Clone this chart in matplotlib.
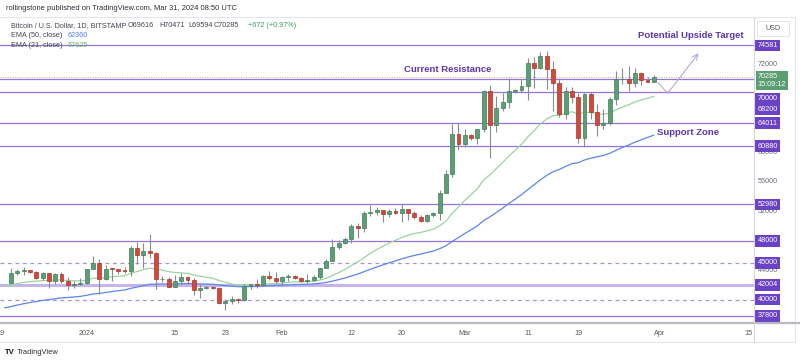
import numpy as np
import pandas as pd
import matplotlib
matplotlib.use("Agg")
import matplotlib.pyplot as plt
import matplotlib.transforms as mtransforms
from matplotlib.patches import Rectangle

plt.rcParams['font.family'] = ['Liberation Sans', 'DejaVu Sans']

# daily BTC/USD candles, Dec 20 2023 .. Mar 31 2024
dates = pd.date_range("2023-12-20", "2024-03-31", freq="D")
opens = [42270, 43660, 43870, 43990, 43730, 43010, 43580, 42510, 43450, 42580, 42070, 42140,
         42280, 44180, 44950, 42850, 44180, 44160, 43970, 43930, 46970, 46120, 46660, 46350,
         42780, 42840, 41730, 42510, 43150, 42740, 41260, 41620, 41670, 41550, 39510, 39850,
         40080, 39940, 41800, 42120, 42030, 43290, 42950,
         42580, 43080, 43190, 43000, 42580, 42660, 43080, 44320, 45300, 47130, 47750, 48290,
         49960, 49700, 51800, 51920, 52160, 51660, 52120, 51780, 52280, 51840, 51300, 50740,
         51570, 51730, 54490, 57070, 62500,
         61200, 62440, 62030, 63170, 68330, 63800, 66110, 66930, 68300, 68500, 69020, 72120,
         71480, 73080, 71400, 69400, 65300, 68390, 67550, 61910, 67910, 65490, 63780, 64060,
         67230, 69950, 69990, 69470, 70780, 69890, 69616]
highs = [44290, 44240, 44400, 44020, 43960, 43800, 43620, 43690, 43800, 43130, 42610, 42900,
         44200, 45900, 45500, 44760, 44350, 44240, 44500, 47250, 47900, 47690, 48970, 46520,
         43260, 43080, 43370, 43580, 43200, 42920, 42170, 41860, 41880, 41690, 40100, 40550,
         40260, 42200, 42200, 42840, 43320, 43860, 43750,
         43280, 43480, 43380, 43110, 43520, 43400, 44350, 45560, 48190, 48150, 48570, 50330,
         50360, 52040, 52820, 52570, 52200, 52350, 52490, 52960, 52360, 52040, 51520, 51690,
         51960, 54950, 57560, 63900, 64000,
         63150, 62450, 63230, 68540, 69200, 67650, 68050, 70140, 68630, 70000, 72800, 72950,
         73650, 73800, 72400, 70100, 68870, 68900, 68100, 68100, 68200, 66600, 65950, 67560,
         71100, 71520, 71700, 71500, 70900, 70300, 70471]
lows = [42190, 43300, 43410, 43580, 42800, 42720, 41630, 42100, 42300, 41300, 41530, 41970,
        42190, 44180, 40800, 42640, 42580, 43430, 43600, 43200, 44800, 44350, 45650, 41500,
        42460, 41740, 41720, 42050, 42200, 40600, 40280, 41460, 41470, 39450, 38540, 39480,
        39500, 39820, 41400, 41640, 41800, 42700, 42300,
        41880, 42570, 42880, 42380, 42270, 42570, 42790, 44320, 45270, 46830, 47540, 47700,
        48350, 49270, 51320, 51560, 50620, 51180, 51660, 50600, 50880, 50930, 50550, 50590,
        51300, 50900, 54460, 56700, 60400,
        60800, 61680, 61170, 62800, 59200, 62850, 65600, 66100, 68100, 68250, 67200, 68800,
        71350, 68600, 65600, 64800, 64600, 66700, 61300, 60800, 64600, 62300, 63200, 63800,
        66400, 69300, 68400, 68950, 69150, 69560, 69594]
closes = [43660, 43870, 43990, 43730, 43010, 43580, 42510, 43450, 42580, 42070, 42140, 42280,
          44180, 44950, 42850, 44180, 44160, 43970, 43930, 46970, 46120, 46660, 46350, 42780,
          42840, 41730, 42510, 43150, 42740, 41260, 41620, 41670, 41550, 39510, 39850, 40080,
          39940, 41800, 42120, 42030, 43290, 42950, 42580,
          43080, 43190, 43000, 42580, 42660, 43080, 44320, 45300, 47130, 47750, 48290, 49960,
          49700, 51800, 51920, 52160, 51660, 52120, 51780, 52280, 51840, 51300, 50740, 51570,
          51730, 54490, 57070, 62500, 61200,
          62440, 62030, 63170, 68330, 63800, 66110, 66930, 68300, 68500, 69020, 72120, 71480,
          73080, 71400, 69400, 65300, 68390, 67550, 61910, 67910, 65490, 63780, 64060, 67230,
          69950, 69990, 69470, 70780, 69890, 69620, 70285]

# EMA values on Dec 19
ema21_start = 41850
ema50_start = 38900

levels_solid = [74581, 70000, 68200, 64011, 60880, 52980, 48000, 37800]
level_thick = 42004
levels_dashed = [45000, 40000]
last_price = 70285

tick_days = ["2023-12-19", "2024-01-01", "2024-01-15", "2024-01-23", "2024-02-01", "2024-02-12",
             "2024-02-20", "2024-03-01", "2024-03-11", "2024-03-19", "2024-04-01", "2024-04-15"]
tick_labels = ["19", "2024", "15", "23", "Feb", "12", "20", "Mar", "11", "19", "Apr", "15"]
# only the price ticks not hidden behind level labels
price_ticks = [44000, 52000, 56000, 60000, 72000]

GREEN = "#5e9e74"
GREEN_EDGE = "#3f7d57"
RED = "#d4473b"
RED_EDGE = "#a9352b"
WICK = "#8c8c8c"
PURPLE = "#9473d6"
PURPLE_BOX = "#6a42c6"
TXT_PURPLE = "#5b35b5"

t0 = pd.Timestamp("2024-01-01")
x = np.array((dates - t0).days, dtype=float)
o = np.array(opens, float)
h = np.array(highs, float)
l = np.array(lows, float)
c = np.array(closes, float)


def ema(values, start, n):
    a = 2.0 / (n + 1)
    out = [start]
    for v in values:
        out.append(out[-1] + a * (v - out[-1]))
    return np.array(out)


ema21 = ema(c, ema21_start, 21)
ema50 = ema(c, ema50_start, 50)
x_ema = np.concatenate([[x[0] - 1], x])

W, H = 800, 364
fig = plt.figure(figsize=(8, 3.64), dpi=100)
fig.patch.set_facecolor("white")


def fx(px):
    return px / W


def fy(py):
    return 1 - py / H


ax = fig.add_axes([0, fy(323), fx(754), (323 - 21) / H])
ax.set_facecolor("white")
ax.set_xlim(-13.76, 105.9)
ax.set_ylim(36840, 77870)
for s in ax.spines.values():
    s.set_visible(False)
ax.set_xticks([])
ax.set_yticks([])

# horizontal levels
for lv in levels_solid:
    ax.axhline(lv, color=PURPLE, lw=0.9, zorder=1)
ax.axhline(level_thick, color="#c6b5ec", lw=2.2, zorder=1)
for lv in levels_dashed:
    ax.axhline(lv, color="#a890e0", lw=0.9, ls=(0, (3, 3)), zorder=1)
ax.axhline(last_price, color="#b0b0b0", lw=0.7, ls=(0, (1, 1.5)), zorder=1)

# EMAs
ax.plot(x_ema, ema50, color="#5b86ef", lw=0.9, zorder=2)
ax.plot(x_ema, ema21, color="#9ad49f", lw=0.9, zorder=2)

# candles
up = c >= o
ax.vlines(x, l, h, color=WICK, lw=0.8, zorder=3)
body = np.maximum(np.abs(c - o), 90)
ax.bar(x[up], body[up], bottom=np.minimum(o, c)[up], width=0.62,
       color=GREEN, edgecolor=GREEN_EDGE, lw=0.5, zorder=4)
ax.bar(x[~up], body[~up], bottom=np.minimum(o, c)[~up], width=0.62,
       color=RED, edgecolor=RED_EDGE, lw=0.5, zorder=4)

# projected path arrow
ax.plot([90.7, 92.2], [69490, 68050], color="#b8a6e3", lw=0.8, zorder=3)
ax.annotate("", xy=(97.1, 73490), xytext=(92.2, 68050),
            arrowprops=dict(arrowstyle="->", color="#b8a6e3", lw=0.8,
                            shrinkA=0, shrinkB=0), zorder=3)

# annotations
fig.text(fx(638), fy(36), "Potential Upside Target", color=TXT_PURPLE, fontsize=6.8,
         fontweight="bold", va="center", ha="left")
fig.text(fx(404), fy(69), "Current Resistance", color=TXT_PURPLE, fontsize=6.8,
         fontweight="bold", va="center", ha="left")
fig.text(fx(657), fy(132), "Support Zone", color=TXT_PURPLE, fontsize=6.8,
         fontweight="bold", va="center", ha="left")

# price axis
trans = mtransforms.blended_transform_factory(ax.transAxes, ax.transData)
for p in price_ticks:
    ax.text(1.0045, p, str(p), transform=trans, fontsize=5.2, color="#6a6d78",
            va="center", ha="left", clip_on=False, zorder=5)

# 70000 / 68200 labels are pushed below the live price label, as in the chart
label_offsets = {70000: -14.2, 68200: -12.6}
for lv in levels_solid + levels_dashed + [level_thick]:
    ax.annotate(str(lv), xy=(1.0045, lv), xycoords=trans,
                xytext=(0, label_offsets.get(lv, 0)), textcoords="offset points",
                fontsize=5.2, color="white", va="center", ha="left",
                annotation_clip=False, zorder=6,
                bbox=dict(boxstyle="square,pad=0.3", fc=PURPLE_BOX, ec="none"))
ax.annotate("%d\n15:09:12" % last_price, xy=(1.0045, last_price), xycoords=trans,
            xytext=(0, -2.6), textcoords="offset points", fontsize=5.2, color="white",
            va="center", ha="left", annotation_clip=False, zorder=7, linespacing=1.15,
            bbox=dict(boxstyle="square,pad=0.25", fc="#5a9e72", ec="none"))

# time axis
tick_x = [(pd.Timestamp(d) - t0).days for d in tick_days]
tick_x[0] = tick_x[0] - 0.6
for tx, tl in zip(tick_x, tick_labels):
    ax.text(tx, -0.035, tl, transform=mtransforms.blended_transform_factory(ax.transData, ax.transAxes),
            fontsize=5.2, color="#55585f", ha="center", va="center", clip_on=False)

# frame lines
fig.add_artist(plt.Line2D([0, fx(800)], [fy(323), fy(323)], color="#b7b9c0", lw=1.6))
fig.add_artist(plt.Line2D([fx(754), fx(754)], [fy(17), fy(342)], color="#d5d7de", lw=0.8))
fig.add_artist(Rectangle((fx(-2), fy(342)), fx(797), (342 - 17) / H, fill=False,
                         ec="#e3e5ea", lw=0.8))
fig.add_artist(Rectangle((fx(757), fy(36)), fx(32), 15 / H, fill=True, fc="white",
                         ec="#e3e5ea", lw=0.7))
fig.text(fx(773), fy(28.5), "USD", fontsize=5.2, color="#55585f", ha="center", va="center")

# header texts
fig.text(fx(6), fy(8), "rollingstone published on TradingView.com, Mar 31, 2024 08:50 UTC",
         fontsize=5.4, color="#2a2e39", va="center")
fig.text(fx(11), fy(25.7), "Bitcoin / U.S. Dollar, 1D, BITSTAMP", fontsize=5.2,
         color="#434651", va="center")
for px, s in [(127.7, "O69616"), (159, "H70471"), (188.7, "L69594"), (214, "C70285")]:
    fig.text(fx(px), fy(25.7), s, fontsize=5.2, color="#434651", va="center")
fig.text(fx(248), fy(25.7), "+672 (+0.97%)", fontsize=5.2, color="#3d9a63", va="center")
fig.text(fx(11), fy(35.5), "EMA (50, close)", fontsize=5.2, color="#434651", va="center")
fig.text(fx(68), fy(35.5), "62360", fontsize=5.2, color="#4a7cf0", va="center")
fig.text(fx(11), fy(45.5), "EMA (21, close)", fontsize=5.2, color="#434651", va="center")
fig.text(fx(68), fy(45.5), "67625", fontsize=5.2, color="#5cb868", va="center")

# footer
fig.text(fx(5), fy(352), "TV", fontsize=5.6, fontweight="bold", color="#131722", va="center")
fig.text(fx(17), fy(352), "TradingView", fontsize=5.4, color="#2a2e39", va="center")

fig.savefig("out.png", dpi=100, facecolor="white")
